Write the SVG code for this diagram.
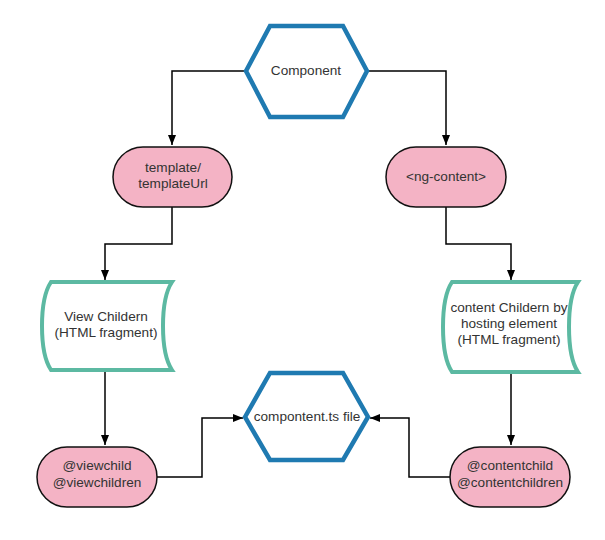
<svg xmlns="http://www.w3.org/2000/svg" width="605" height="540" viewBox="0 0 605 540">
<defs>
<marker id="arr" markerWidth="10" markerHeight="10" viewBox="0 0 10 10" refX="10" refY="5" orient="auto" markerUnits="userSpaceOnUse">
<path d="M0,1 L10,5 L0,9 Z" fill="#000"/>
</marker>
</defs>
<style>
.hex{fill:#fff;stroke:#1f7ab1;stroke-width:4.5;stroke-linejoin:miter}
.term{fill:#f4b3c5;stroke:#111;stroke-width:1.5}
.data{fill:#fff;stroke:#5cb9a2;stroke-width:4}
.t{font-family:"Liberation Sans",Arial,sans-serif;font-size:13.6px;fill:#333;text-anchor:middle}
.c{fill:none;stroke:#000;stroke-width:1.5}
</style>
<rect width="605" height="540" fill="#fff"/>
<g id="connectors">
<path class="c" d="M246,71 H172 V145" marker-end="url(#arr)"/>
<path class="c" d="M367,71 H446 V145" marker-end="url(#arr)"/>
<path class="c" d="M172,207 V244 H105 V280" marker-end="url(#arr)"/>
<path class="c" d="M446,207 V244 H511 V280" marker-end="url(#arr)"/>
<path class="c" d="M105,370 V445" marker-end="url(#arr)"/>
<path class="c" d="M511,372 V445" marker-end="url(#arr)"/>
<path class="c" d="M157,477 H202 V418 H243" marker-end="url(#arr)"/>
<path class="c" d="M450,477 H409 V418 H370" marker-end="url(#arr)"/>
</g>
<g id="component">
<polygon class="hex" points="246,71 270,26 343,26 367,71 343,117 270,117"/>
<text class="t" x="306" y="75">Component</text>
</g>
<g id="template">
<rect class="term" x="113" y="147" width="119" height="60" rx="30" ry="30"/>
<text class="t" x="173" y="172">template/</text>
<text class="t" x="173" y="188">templateUrl</text>
</g>
<g id="ngcontent">
<rect class="term" x="386" y="147" width="120" height="60" rx="30" ry="30"/>
<text class="t" x="446" y="181">&lt;ng-content&gt;</text>
</g>
<g id="viewchildren">
<path class="data" d="M51,282 L172,282 C160,300 160,352 172,370 L51,370 C39,352 39,300 51,282 Z"/>
<text class="t" x="106" y="321">View Childern</text>
<text class="t" x="106" y="337">(HTML fragment)</text>
</g>
<g id="contentchildren">
<path class="data" d="M452,282 L578,282 C566,300 566,354 578,372 L452,372 C440,354 440,300 452,282 Z"/>
<text class="t" x="509" y="312">content Childern by</text>
<text class="t" x="509" y="328">hosting element</text>
<text class="t" x="509" y="344">(HTML fragment)</text>
</g>
<g id="viewchild">
<rect class="term" x="37" y="447" width="120" height="60" rx="30" ry="30"/>
<text class="t" x="97" y="470">@viewchild</text>
<text class="t" x="97" y="487">@viewchildren</text>
</g>
<g id="contentchild">
<rect class="term" x="450" y="447" width="120" height="60" rx="30" ry="30"/>
<text class="t" x="510" y="470">@contentchild</text>
<text class="t" x="510" y="487">@contentchildren</text>
</g>
<g id="componentts">
<polygon class="hex" points="245,417 270,373 343,373 368,417 343,460 270,460"/>
<text class="t" x="307" y="421">compontent.ts file</text>
</g>
</svg>
